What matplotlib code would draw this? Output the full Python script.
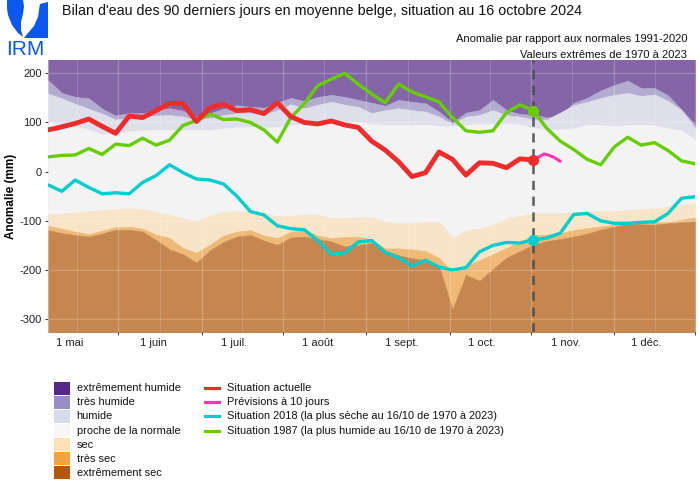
import matplotlib.pyplot as plt
from matplotlib.colors import to_rgb
from matplotlib.patches import Rectangle, Polygon
from matplotlib.lines import Line2D

plt.rcParams['font.family'] = ['Liberation Sans', 'DejaVu Sans']
plt.rcParams['axes.unicode_minus'] = False

# Axe des x : jours depuis le 19 avril (pas de 5 jours)
jours = list(range(0, 241, 5))

# Limites des classes (mm) - de la plus humide à la plus sèche
lim_ext_humide = [186, 160, 152, 149, 128, 114, 119, 119, 125, 129, 124, 112, 119, 128, 135, 132, 130,
                  140, 150, 143, 152, 156, 152, 146, 140, 134, 146, 142, 139, 122, 100, 120, 125, 146,
                  125, 117, 116, 110, 115, 140, 150, 165, 176, 185, 170, 170, 155, 126, 96]
lim_tres_humide = [159, 149, 138, 128, 118, 106, 109, 112, 114, 115, 112, 106, 109, 115, 119, 119, 116,
                   125, 137, 129, 136, 142, 136, 132, 119, 125, 129, 125, 122, 112, 97, 112, 115, 125,
                   115, 112, 106, 106, 120, 135, 142, 150, 156, 160, 154, 157, 144, 125, 89]
lim_humide = [102, 95, 91, 86, 76, 78, 82, 84, 85, 85, 85, 85, 85, 88, 90, 91, 90, 91, 94, 97, 98, 99,
              100, 101, 97, 95, 95, 95, 96, 93, 92, 95, 98, 96, 98, 96, 89, 86, 86, 88, 96, 95, 92, 95,
              96, 94, 88, 84, 65]
lim_sec = [-86, -86, -83, -81, -78, -76, -75, -76, -82, -88, -95, -100, -90, -82, -81, -81, -84, -91,
           -90, -88, -87, -95, -95, -93, -93, -102, -105, -105, -102, -102, -135, -120, -116, -108,
           -95, -90, -85, -85, -85, -83, -81, -81, -81, -78, -76, -75, -71, -68, -64]
lim_tres_sec = [-110, -116, -122, -127, -120, -113, -112, -116, -128, -135, -155, -165, -148, -130,
                -122, -119, -130, -135, -122, -119, -130, -135, -133, -132, -138, -156, -156, -158,
                -162, -175, -205, -192, -180, -168, -155, -143, -129, -128, -125, -119, -115, -111,
                -108, -105, -104, -103, -102, -98, -93]
lim_ext_sec = [-119, -125, -129, -132, -126, -118, -118, -122, -139, -158, -168, -185, -160, -143,
               -132, -129, -140, -149, -134, -132, -137, -142, -152, -149, -145, -160, -170, -176,
               -180, -192, -280, -210, -222, -198, -175, -162, -149, -141, -137, -132, -126, -118,
               -112, -106, -107, -108, -105, -103, -101]

# Situation actuelle (jusqu'au 16/10 = jour 180)
jours_actuel = list(range(0, 181, 5))
actuel = [85, 91, 98, 107, 92, 78, 113, 110, 124, 139, 138, 102, 130, 137, 124, 126, 118, 140, 112,
          100, 97, 103, 95, 90, 62, 44, 20, -10, -2, 40, 25, -7, 18, 17, 8, 26, 24]

# Prévisions à 10 jours
jours_prev = [180, 182, 184, 186, 188, 190]
prevision = [24, 30, 36, 33, 28, 21]

situation_2018 = [-27, -40, -17, -32, -45, -43, -45, -22, -8, 14, -2, -15, -17, -25, -50, -81, -88,
                  -110, -116, -118, -140, -168, -165, -143, -140, -164, -175, -192, -180, -194, -200,
                  -195, -163, -150, -144, -145, -139, -135, -125, -87, -85, -100, -105, -105, -103,
                  -102, -85, -54, -51]
situation_1987 = [30, 33, 34, 47, 35, 56, 53, 68, 54, 64, 94, 104, 117, 106, 107, 100, 85, 60, 110,
                  138, 175, 188, 200, 178, 158, 140, 178, 162, 152, 142, 110, 83, 80, 83, 120, 136,
                  124, 88, 62, 45, 25, 14, 50, 70, 54, 59, 43, 22, 16]

jour_actuel = 180

# Graduations : ticks au 15 de chaque mois, étiquettes "1 mois"
ticks_15 = [26, 57, 87, 118, 149, 179, 210, 240]
pos_mois = [8, 39, 69, 100, 131, 161, 192, 222]
noms_mois = ['1 mai', '1 juin', '1 juil.', '1 août', '1 sept.', '1 oct.', '1 nov.', '1 déc.']

classes = ['extrêmement humide', 'très humide', 'humide', 'proche de la normale',
           'sec', 'très sec', 'extrêmement sec']
couleurs = ['#542788', '#998ec3', '#d8daeb', '#f7f7f7', '#fee0b6', '#f1a340', '#b35806']


def melange(c, alpha=0.68, fond='#ebebeb'):
    c, f = to_rgb(c), to_rgb(fond)
    return tuple(alpha * a + (1 - alpha) * b for a, b in zip(c, f))


W, H = 700, 490
fig = plt.figure(figsize=(W / 100, H / 100), dpi=100)
ax = fig.add_axes([48.3 / W, 1 - 332 / H, (695 - 48.3) / W, (332 - 60) / H])
ax.set_facecolor('#ebebeb')

# Bandes de classes
bornes = [[400] * len(jours), lim_ext_humide, lim_tres_humide, lim_humide,
          lim_sec, lim_tres_sec, lim_ext_sec, [-400] * len(jours)]
for i, c in enumerate(couleurs):
    cc = melange(c)
    ax.fill_between(jours, bornes[i + 1], bornes[i], facecolor=cc, edgecolor=cc, linewidth=0.4, zorder=1)

ax.set_xlim(0, 240)
ax.set_ylim(-326, 227)

# Grille
ax.set_xticks(ticks_15)
ax.set_xticklabels([''] * len(ticks_15))
ax.set_yticks([-300, -200, -100, 0, 100, 200])
for x in ticks_15:
    ax.axvline(x, color='white', lw=0.9, alpha=0.22, zorder=2)
for a, b in zip([ticks_15[0] - 31] + ticks_15[:-1], ticks_15):
    ax.axvline((a + b) / 2, color='white', lw=0.5, alpha=0.22, zorder=2)
for y in [-300, -200, -100, 0, 100, 200]:
    ax.axhline(y, color='white', lw=0.9, alpha=0.22, zorder=2)

for s in ax.spines.values():
    s.set_visible(False)
ax.tick_params(axis='both', length=2.5, width=0.7, color='#333333', labelsize=8,
               labelcolor='#222222', pad=2)

for x, t in zip(pos_mois, noms_mois):
    ax.text(x, -0.04, t, transform=ax.get_xaxis_transform(), ha='center', va='center',
            fontsize=8, color='#222222')

# Ligne du jour
ax.axvline(jour_actuel, color='#4a4a4a', lw=1.9, ls=(0, (3.5, 2.5)), alpha=0.85, zorder=3)

# Courbes
ax.plot(jours, situation_1987, color='#66cd00', lw=2.4, zorder=4, solid_capstyle='round')
ax.plot(jours, situation_2018, color='#00cdcd', lw=2.4, zorder=4, solid_capstyle='round')
ax.plot(jours_actuel, actuel, color='#ee2c2c', lw=3.5, zorder=5, solid_capstyle='round')
ax.plot(jours_prev, prevision, color='#ff34b3', lw=2.2, zorder=5, solid_capstyle='round')

ax.plot(jour_actuel, situation_1987[jours.index(jour_actuel)], 'o', color='#66cd00', ms=7, zorder=6)
ax.plot(jour_actuel, situation_2018[jours.index(jour_actuel)], 'o', color='#00cdcd', ms=7, zorder=6)
ax.plot(jour_actuel, actuel[-1], 'o', color='#ee2c2c', ms=7, zorder=6)

# Textes
fig.text(62 / W, 1 - 14.5 / H, "Bilan d'eau des 90 derniers jours en moyenne belge, situation au 16 octobre 2024",
         fontsize=10.3, va='baseline', ha='left', color='#111111')
fig.text(687 / W, 1 - 41.5 / H, 'Anomalie par rapport aux normales 1991-2020', fontsize=8,
         va='baseline', ha='right', color='#111111')
fig.text(687 / W, 1 - 58 / H, 'Valeurs extrêmes de 1970 à 2023', fontsize=8,
         va='baseline', ha='right', color='#111111')
fig.text(11 / W, 1 - 196 / H, 'Anomalie (mm)', rotation=90, fontsize=8.5, fontweight='bold',
         va='center', ha='center')

# Logo IRM
bleu = '#0a58f0'
gauche = [(7, 0), (23, 0), (24, 6), (23, 14), (21, 22), (21, 30), (23, 37), (18, 33), (12, 25), (8, 15), (7, 8)]
droite = [(40, 4), (48, 2), (48, 38), (24, 38), (28, 33), (34, 26), (38, 17), (39, 10)]
for pts in (gauche, droite):
    fig.add_artist(Polygon([(x / W, 1 - y / H) for x, y in pts], closed=True,
                           facecolor=bleu, edgecolor='none', transform=fig.transFigure))
fig.text(6 / W, 1 - 55 / H, 'IRM', fontsize=15, color=bleu, va='baseline', ha='left')

# Légende
pas = 14.07
for i, (nom, c) in enumerate(zip(classes, couleurs)):
    yc = 388.3 + i * pas
    fig.add_artist(Rectangle((54 / W, 1 - (yc + 6.6) / H), 16 / W, 13.2 / H,
                             facecolor=c, edgecolor='none', transform=fig.transFigure))
    fig.text(76.7 / W, 1 - yc / H, nom, fontsize=7.9, va='center', ha='left', color='#111111')

noms_courbes = ['Situation actuelle', 'Prévisions à 10 jours',
                'Situation 2018 (la plus sèche au 16/10 de 1970 à 2023)',
                'Situation 1987 (la plus humide au 16/10 de 1970 à 2023)']
couleurs_courbes = ['#ee2c2c', '#ff34b3', '#00cdcd', '#66cd00']
for i, (nom, c) in enumerate(zip(noms_courbes, couleurs_courbes)):
    yc = 388.3 + i * pas
    fig.add_artist(Line2D([205 / W, 218.5 / W], [1 - yc / H, 1 - yc / H], color=c, lw=2.3,
                          transform=fig.transFigure))
    fig.text(226.7 / W, 1 - yc / H, nom, fontsize=7.9, va='center', ha='left', color='#111111')

fig.savefig('out.png', dpi=100)
